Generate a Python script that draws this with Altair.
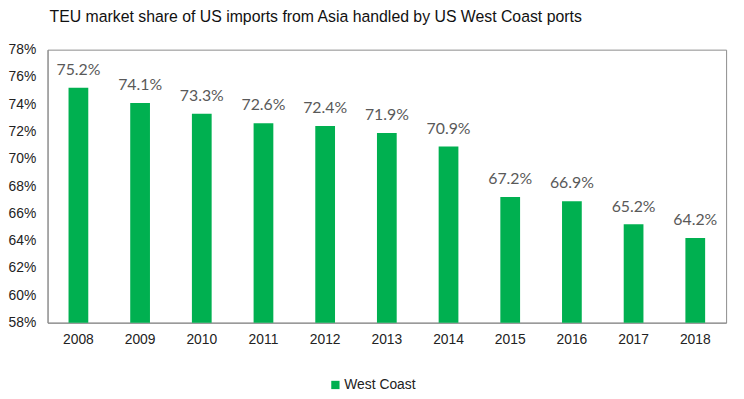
import altair as alt
import pandas as pd

years = ["2008", "2009", "2010", "2011", "2012", "2013", "2014", "2015", "2016", "2017", "2018"]
share = [75.2, 74.1, 73.3, 72.6, 72.4, 71.9, 70.9, 67.2, 66.9, 65.2, 64.2]
series = "West Coast"
y_ticks = [58, 60, 62, 64, 66, 68, 70, 72, 74, 76, 78]

df = pd.DataFrame({"year": years, "share": share, "series": series})

x_enc = alt.X("year:N", title=None, sort=years,
              scale=alt.Scale(paddingInner=0.68, paddingOuter=0.34),
              axis=alt.Axis(labelAngle=0, ticks=False, domainColor="#8c8c8c", labelFont="Liberation Sans",
                            labelFontSize=14, labelColor="#222222", labelPadding=10))
y_enc = alt.Y("share:Q", title=None,
              scale=alt.Scale(domain=[58, 78], nice=False, zero=False),
              axis=alt.Axis(values=y_ticks, labelExpr="datum.value + '%'", grid=False, ticks=False,
                            labelOverlap=False, labelBound=False, labelFlush=False,
                            domainColor="#8c8c8c", labelFont="Liberation Sans",
                            labelFontSize=14, labelColor="#222222", labelPadding=12))

base = alt.Chart(df).encode(x=x_enc, y=y_enc)

bars = base.mark_bar(clip=True).encode(
    color=alt.Color("series:N", scale=alt.Scale(range=["#00B050"]),
                    legend=alt.Legend(title=None, orient="none", legendX=284, legendY=332,
                                      symbolType="square", symbolSize=70, symbolStrokeWidth=0,
                                      labelFont="Liberation Sans", labelFontSize=14, labelColor="#222222",
                                      labelOffset=2)),
)

labels = base.transform_calculate(
    lbl="format(datum.share, '.1f') + '%'"
).mark_text(dy=-18, font="Lato", fontSize=16, color="#595959").encode(text="lbl:N")

chart = (bars + labels).properties(
    width=686, height=276,
    autosize=alt.AutoSizeParams(type="none"),
    padding={"left": 40, "top": 40, "right": 10, "bottom": 67},
    title=alt.TitleParams("TEU market share of US imports from Asia handled by US West Coast ports",
                          anchor="start", frame="group", font="Liberation Sans", fontSize=16,
                          fontWeight="normal", color="#111111", offset=18, dx=2),
).configure_axis(labelOverlap=False).configure_view(stroke="#8c8c8c", strokeWidth=1)

chart.save("out.html", embed_options={"renderer": "svg", "actions": False})
